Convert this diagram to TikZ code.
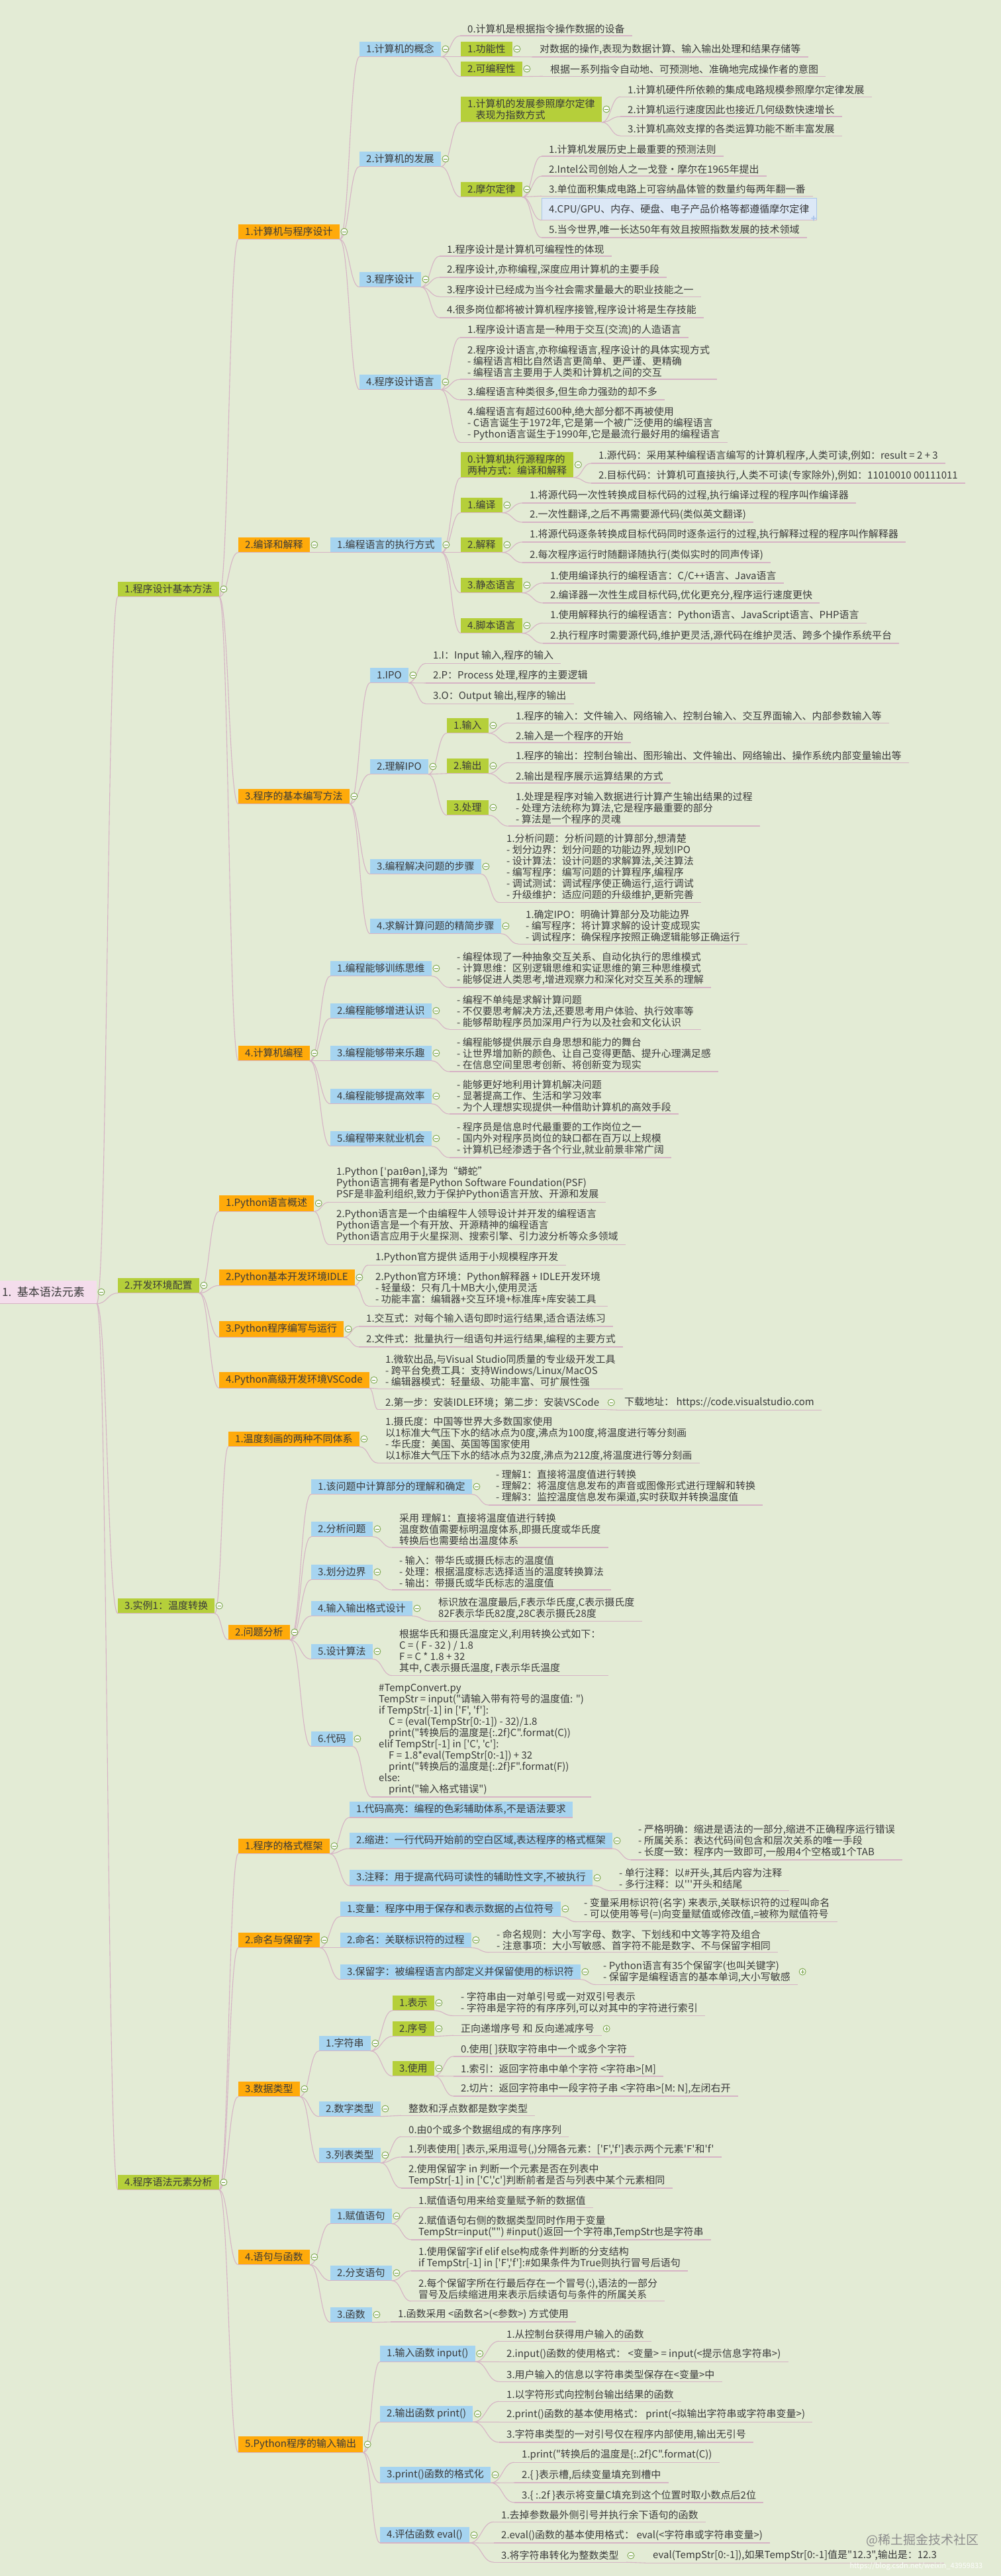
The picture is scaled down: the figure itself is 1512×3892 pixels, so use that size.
\documentclass[tikz,border=0pt]{standalone}
\usepackage{fontspec}
\setmainfont{Noto Sans CJK SC}[Ligatures=TeXOff]
\newfontfamily\dv{DejaVu Sans}
\usetikzlibrary{calc}
\definecolor{bgc}{HTML}{E3EBD5}
\definecolor{txt}{HTML}{3A3A3A}
\definecolor{limec}{HTML}{B5CF3A}
\definecolor{orgc}{HTML}{FFAA0A}
\definecolor{bluc}{HTML}{A6D4F0}
\definecolor{rootc}{HTML}{F4DDEC}
\definecolor{lnc}{HTML}{D6B3C5}
\definecolor{tgc}{HTML}{6E9E3A}
\definecolor{selfc}{HTML}{DCE8F6}
\definecolor{selb}{HTML}{A9C4EA}
\newcommand\fs{\fontsize{15pt}{17pt}\selectfont}
\newcommand\ind{\hspace*{15pt}}
\tikzset{
 uln/.style={draw=lnc, line width=1.4pt},
 con/.style={draw=lnc, line width=1.1pt},
 lf/.style={anchor=west, align=left, inner xsep=11pt, inner ysep=3pt, font=\fs, text=txt,
   append after command={(\tikzlastnode.south west) edge[uln] (\tikzlastnode.south east)}},
 bx/.style={anchor=west, align=left, inner xsep=10pt, inner ysep=4pt, minimum height=23pt, font=\fs, text=txt,
   append after command={(\tikzlastnode.south west) edge[uln] (\tikzlastnode.south east)}},
 lm/.style={bx, fill=limec}, og/.style={bx, fill=orgc}, bl/.style={bx, fill=bluc},
 rt/.style={anchor=east, fill=rootc, text width=128pt, align=right, inner xsep=18pt, minimum height=35pt,
   font=\fontsize{17pt}{20pt}\selectfont, text=txt,
   append after command={(\tikzlastnode.south west) edge[uln] (\tikzlastnode.south east)}},
 tg/.style={circle, draw=tgc, fill=white!85!bgc, line width=0.8pt, minimum size=10pt, inner sep=0pt,
   path picture={\draw[tgc, line width=1pt] ([xshift=-2.6pt]path picture bounding box.center) -- ([xshift=2.6pt]path picture bounding box.center);}},
 tgp/.style={tg, path picture={\draw[tgc, line width=1pt] ([xshift=-2.6pt]path picture bounding box.center) -- ([xshift=2.6pt]path picture bounding box.center) ([yshift=-2.6pt]path picture bounding box.center) -- ([yshift=2.6pt]path picture bounding box.center);}},
}
\newcommand\cn[2]{\draw[con] let \p1=(#1.south east), \p2=(#2.south west), \n1={(\x1+\x2)/2} in (\p1) .. controls (\n1,\y1) and (\n1,\y2) .. (\p2);}
\begin{document}
\begin{tikzpicture}[x=1pt,y=-1pt]
\useasboundingbox (0,0) rectangle (1512,3892);
\fill[bgc] (0,0) rectangle (1512,3892);

% root and level 1
\node[rt] (R) at (146,1952) {1. 基本语法元素};
\node[lm] (A) at (178,890) {1.程序设计基本方法};
\node[lm] (B) at (178,1942) {2.开发环境配置};
\node[lm] (C) at (178,2426) {3.实例1：温度转换};
\node[lm] (D) at (178,3297) {4.程序语法元素分析};

% ---------- A ----------
\node[og] (A1) at (360,350) {1.计算机与程序设计};
\node[og] (A2) at (360,823) {2.编译和解释};
\node[og] (A3) at (360,1203) {3.程序的基本编写方法};
\node[og] (A4) at (360,1591) {4.计算机编程};

\node[bl] (A11) at (543,74) {1.计算机的概念};
\node[bl] (A12) at (543,240) {2.计算机的发展};
\node[bl] (A13) at (543,422) {3.程序设计};
\node[bl] (A14) at (543,577) {4.程序设计语言};

\node[lf] (A110) at (695,44) {0.计算机是根据指令操作数据的设备};
\node[lm] (A111) at (696,74) {1.功能性};
\node[lm] (A112) at (696,104) {2.可编程性};
\node[lf] (A1111) at (804,75) {对数据的操作,表现为数据计算、输入输出处理和结果存储等};
\node[lf] (A1121) at (820,105) {根据一系列指令自动地、可预测地、准确地完成操作者的意图};

\node[lm] (A121) at (696,165) {1.计算机的发展参照摩尔定律\\\phantom{1.}表现为指数方式};
\node[lm] (A122) at (696,286) {2.摩尔定律};
\node[lf] (A1211) at (937,136) {1.计算机硬件所依赖的集成电路规模参照摩尔定律发展};
\node[lf] (A1212) at (937,166) {2.计算机运行速度因此也接近几何级数快速增长};
\node[lf] (A1213) at (937,195) {3.计算机高效支撑的各类运算功能不断丰富发展};
\node[lf] (A1221) at (818,226) {1.计算机发展历史上最重要的预测法则};
\node[lf] (A1222) at (818,256) {2.Intel公司创始人之一戈登·摩尔在1965年提出};
\node[lf] (A1223) at (818,286) {3.单位面积集成电路上可容纳晶体管的数量约每两年翻一番};
\node[lf, fill=selfc, draw=selb, minimum height=33pt] (A1224) at (818,316) {4.CPU/GPU、内存、硬盘、电子产品价格等都遵循摩尔定律};
\node[text=selb, font=\bfseries\fontsize{14pt}{14pt}\selectfont, inner sep=0pt] (selplus) at (1229,331) {+};
\node[lf] (A1225) at (818,348) {5.当今世界,唯一长达50年有效且按照指数发展的技术领域};

\node[lf] (A131) at (664,377) {1.程序设计是计算机可编程性的体现};
\node[lf] (A132) at (664,408) {2.程序设计,亦称编程,深度应用计算机的主要手段};
\node[lf] (A133) at (664,438) {3.程序设计已经成为当今社会需求量最大的职业技能之一};
\node[lf] (A134) at (664,469) {4.很多岗位都将被计算机程序接管,程序设计将是生存技能};

\node[lf] (A141) at (695,499) {1.程序设计语言是一种用于交互(交流)的人造语言};
\node[lf] (A142) at (695,546) {2.程序设计语言,亦称编程语言,程序设计的具体实现方式\\- 编程语言相比自然语言更简单、更严谨、更精确\\- 编程语言主要用于人类和计算机之间的交互};
\node[lf] (A143) at (695,593) {3.编程语言种类很多,但生命力强劲的却不多};
\node[lf] (A144) at (695,640) {4.编程语言有超过600种,绝大部分都不再被使用\\- C语言诞生于1972年,它是第一个被广泛使用的编程语言\\- Python语言诞生于1990年,它是最流行最好用的编程语言};

\node[bl] (A21) at (499,823) {1.编程语言的执行方式};
\node[lm] (A211) at (696,702) {0.计算机执行源程序的\\两种方式：编译和解释};
\node[lm] (A212) at (696,763) {1.编译};
\node[lm] (A213) at (696,823) {2.解释};
\node[lm] (A214) at (696,884) {3.静态语言};
\node[lm] (A215) at (696,945) {4.脚本语言};
\node[lf] (A2111) at (893,689) {1.源代码：采用某种编程语言编写的计算机程序,人类可读,例如：result = 2 + 3};
\node[lf] (A2112) at (893,719) {2.目标代码：计算机可直接执行,人类不可读(专家除外),例如：11010010 00111011};
\node[lf] (A2121) at (789,749) {1.将源代码一次性转换成目标代码的过程,执行编译过程的程序叫作编译器};
\node[lf] (A2122) at (789,778) {2.一次性翻译,之后不再需要源代码(类似英文翻译)};
\node[lf] (A2131) at (789,808) {1.将源代码逐条转换成目标代码同时逐条运行的过程,执行解释过程的程序叫作解释器};
\node[lf] (A2132) at (789,839) {2.每次程序运行时随翻译随执行(类似实时的同声传译)};
\node[lf] (A2141) at (820,870) {1.使用编译执行的编程语言：C/C++语言、Java语言};
\node[lf] (A2142) at (820,900) {2.编译器一次性生成目标代码,优化更充分,程序运行速度更快};
\node[lf] (A2151) at (820,930) {1.使用解释执行的编程语言：Python语言、JavaScript语言、PHP语言};
\node[lf] (A2152) at (820,961) {2.执行程序时需要源代码,维护更灵活,源代码在维护灵活、跨多个操作系统平台};

\node[bl] (A31) at (559,1020) {1.IPO};
\node[bl] (A32) at (559,1158) {2.理解IPO};
\node[bl] (A33) at (559,1309) {3.编程解决问题的步骤};
\node[bl] (A34) at (559,1399) {4.求解计算问题的精简步骤};
\node[lf] (A311) at (643,991) {1.I：Input 输入,程序的输入};
\node[lf] (A312) at (643,1021) {2.P：Process 处理,程序的主要逻辑};
\node[lf] (A313) at (643,1052) {3.O：Output 输出,程序的输出};
\node[lm] (A321) at (675,1096) {1.输入};
\node[lm] (A322) at (675,1157) {2.输出};
\node[lm] (A323) at (675,1220) {3.处理};
\node[lf] (A3211) at (768,1082) {1.程序的输入：文件输入、网络输入、控制台输入、交互界面输入、内部参数输入等};
\node[lf] (A3212) at (768,1112) {2.输入是一个程序的开始};
\node[lf] (A3221) at (768,1142) {1.程序的输出：控制台输出、图形输出、文件输出、网络输出、操作系统内部变量输出等};
\node[lf] (A3222) at (768,1173) {2.输出是程序展示运算结果的方式};
\node[lf] (A3231) at (768,1221) {1.处理是程序对输入数据进行计算产生输出结果的过程\\- 处理方法统称为算法,它是程序最重要的部分\\- 算法是一个程序的灵魂};
\node[lf] (A331) at (754,1310) {1.分析问题：分析问题的计算部分,想清楚\\- 划分边界：划分问题的功能边界,规划IPO\\- 设计算法：设计问题的求解算法,关注算法\\- 编写程序：编写问题的计算程序,编程序\\- 调试测试：调试程序使正确运行,运行调试\\- 升级维护：适应问题的升级维护,更新完善};
\node[lf] (A341) at (783,1399) {1.确定IPO：明确计算部分及功能边界\\- 编写程序：将计算求解的设计变成现实\\- 调试程序：确保程序按照正确逻辑能够正确运行};

\node[bl] (A41) at (499,1463) {1.编程能够训练思维};
\node[bl] (A42) at (499,1527) {2.编程能够增进认识};
\node[bl] (A43) at (499,1591) {3.编程能够带来乐趣};
\node[bl] (A44) at (499,1656) {4.编程能够提高效率};
\node[bl] (A45) at (499,1720) {5.编程带来就业机会};
\node[lf] (A411) at (679,1464) {- 编程体现了一种抽象交互关系、自动化执行的思维模式\\- 计算思维：区别逻辑思维和实证思维的第三种思维模式\\- 能够促进人类思考,增进观察力和深化对交互关系的理解};
\node[lf] (A421) at (679,1528) {- 编程不单纯是求解计算问题\\- 不仅要思考解决方法,还要思考用户体验、执行效率等\\- 能够帮助程序员加深用户行为以及社会和文化认识};
\node[lf] (A431) at (679,1592) {- 编程能够提供展示自身思想和能力的舞台\\- 让世界增加新的颜色、让自己变得更酷、提升心理满足感\\- 在信息空间里思考创新、将创新变为现实};
\node[lf] (A441) at (679,1656) {- 能够更好地利用计算机解决问题\\- 显著提高工作、生活和学习效率\\- 为个人理想实现提供一种借助计算机的高效手段};
\node[lf] (A451) at (679,1721) {- 程序员是信息时代最重要的工作岗位之一\\- 国内外对程序员岗位的缺口都在百万以上规模\\- 计算机已经渗透于各个行业,就业前景非常广阔};

% ---------- B ----------
\node[og] (B1) at (331,1818) {1.Python语言概述};
\node[og] (B2) at (331,1930) {2.Python基本开发环境IDLE};
\node[og] (B3) at (331,2008) {3.Python程序编写与运行};
\node[og] (B4) at (331,2085) {4.Python高级开发环境VSCode};
\node[lf] (B11) at (497,1788) {1.Python {\dv [ˈpaɪθən]},译为“蟒蛇”\\Python语言拥有者是Python Software Foundation(PSF)\\PSF是非盈利组织,致力于保护Python语言开放、开源和发展};
\node[lf] (B12) at (497,1852) {2.Python语言是一个由编程牛人领导设计并开发的编程语言\\Python语言是一个有开放、开源精神的编程语言\\Python语言应用于火星探测、搜索引擎、引力波分析等众多领域};
\node[lf] (B21) at (556,1900) {1.Python官方提供 适用于小规模程序开发};
\node[lf] (B22) at (556,1946) {2.Python官方环境：Python解释器 + IDLE开发环境\\- 轻量级：只有几十MB大小,使用灵活\\- 功能丰富：编辑器+交互环境+标准库+库安装工具};
\node[lf] (B31) at (542,1993) {1.交互式：对每个输入语句即时运行结果,适合语法练习};
\node[lf] (B32) at (542,2024) {2.文件式：批量执行一组语句并运行结果,编程的主要方式};
\node[lf] (B41) at (571,2071) {1.微软出品,与Visual Studio同质量的专业级开发工具\\- 跨平台免费工具：支持Windows/Linux/MacOS\\- 编辑器模式：轻量级、功能丰富、可扩展性强};
\node[lf] (B42) at (571,2119) {2.第一步：安装IDLE环境；第二步：安装VSCode};
\node[lf] (B421) at (932,2119) {下载地址： https://code.visualstudio.com};

% ---------- C ----------
\node[og] (C1) at (345,2174) {1.温度刻画的两种不同体系};
\node[og] (C2) at (345,2466) {2.问题分析};
\node[lf] (C11) at (571,2174) {1.摄氏度：中国等世界大多数国家使用\\以1标准大气压下水的结冰点为0度,沸点为100度,将温度进行等分刻画\\- 华氏度：美国、英国等国家使用\\以1标准大气压下水的结冰点为32度,沸点为212度,将温度进行等分刻画};
\node[bl] (C21) at (470,2246) {1.该问题中计算部分的理解和确定};
\node[bl] (C22) at (470,2310) {2.分析问题};
\node[bl] (C23) at (470,2375) {3.划分边界};
\node[bl] (C24) at (470,2430) {4.输入输出格式设计};
\node[bl] (C25) at (470,2495) {5.设计算法};
\node[bl] (C26) at (470,2627) {6.代码};
\node[lf] (C211) at (738,2246) {- 理解1：直接将温度值进行转换\\- 理解2：将温度信息发布的声音或图像形式进行理解和转换\\- 理解3：监控温度信息发布渠道,实时获取并转换温度值};
\node[lf] (C221) at (592,2311) {采用 理解1：直接将温度值进行转换\\温度数值需要标明温度体系,即摄氏度或华氏度\\转换后也需要给出温度体系};
\node[lf] (C231) at (592,2375) {- 输入：带华氏或摄氏标志的温度值\\- 处理：根据温度标志选择适当的温度转换算法\\- 输出：带摄氏或华氏标志的温度值};
\node[lf] (C241) at (651,2430) {标识放在温度最后,F表示华氏度,C表示摄氏度\\82F表示华氏82度,28C表示摄氏28度};
\node[lf] (C251) at (592,2495) {根据华氏和摄氏温度定义,利用转换公式如下：\\C = ( F - 32 ) / 1.8\\F = C * 1.8 + 32\\其中, C表示摄氏温度, F表示华氏温度};
\node[lf] (C261) at (561,2628) {\#TempConvert.py\\TempStr = input("请输入带有符号的温度值: ")\\if TempStr[-1] in ['F', 'f']:\\\ind C = (eval(TempStr[0:-1]) - 32)/1.8\\\ind print("转换后的温度是\{:.2f\}C".format(C))\\elif TempStr[-1] in ['C', 'c']:\\\ind F = 1.8*eval(TempStr[0:-1]) + 32\\\ind print("转换后的温度是\{:.2f\}F".format(F))\\else:\\\ind print("输入格式错误")};

% ---------- D ----------
\node[og] (D1) at (360,2789) {1.程序的格式框架};
\node[og] (D2) at (360,2931) {2.命名与保留字};
\node[og] (D3) at (360,3156) {3.数据类型};
\node[og] (D4) at (360,3410) {4.语句与函数};
\node[og] (D5) at (360,3693) {5.Python程序的输入输出};

\node[bl] (D11) at (528,2734) {1.代码高亮：编程的色彩辅助体系,不是语法要求};
\node[bl] (D12) at (528,2781) {2.缩进：一行代码开始前的空白区域,表达程序的格式框架};
\node[bl] (D13) at (528,2837) {3.注释：用于提高代码可读性的辅助性文字,不被执行};
\node[lf] (D121) at (953,2782) {- 严格明确：缩进是语法的一部分,缩进不正确程序运行错误\\- 所属关系：表达代码间包含和层次关系的唯一手段\\- 长度一致：程序内一致即可,一般用4个空格或1个TAB};
\node[lf] (D131) at (924,2838) {- 单行注释：以\#开头,其后内容为注释\\- 多行注释：以'''开头和结尾};

\node[bl] (D21) at (514,2884) {1.变量：程序中用于保存和表示数据的占位符号};
\node[bl] (D22) at (514,2931) {2.命名：关联标识符的过程};
\node[bl] (D23) at (514,2979) {3.保留字：被编程语言内部定义并保留使用的标识符};
\node[lf] (D211) at (871,2884) {- 变量采用标识符(名字) 来表示,关联标识符的过程叫命名\\- 可以使用等号(=)向变量赋值或修改值,=被称为赋值符号};
\node[lf] (D221) at (739,2931) {- 命名规则：大小写字母、数字、下划线和中文等字符及组合\\- 注意事项：大小写敏感、首字符不能是数字、不与保留字相同};
\node[lf] (D231) at (900,2979) {- Python语言有35个保留字(也叫关键字)\\- 保留字是编程语言的基本单词,大小写敏感};

\node[bl] (D31) at (482,3087) {1.字符串};
\node[bl] (D32) at (482,3186) {2.数字类型};
\node[bl] (D33) at (482,3256) {3.列表类型};
\node[lm] (D311) at (593,3026) {1.表示};
\node[lm] (D312) at (593,3065) {2.序号};
\node[lm] (D313) at (593,3125) {3.使用};
\node[lf] (D3111) at (685,3026) {- 字符串由一对单引号或一对双引号表示\\- 字符串是字符的有序序列,可以对其中的字符进行索引};
\node[lf] (D3121) at (685,3065) {正向递增序号 和 反向递减序号};
\node[lf] (D3131) at (685,3096) {0.使用[ ]获取字符串中一个或多个字符};
\node[lf] (D3132) at (685,3126) {1.索引：返回字符串中单个字符 <字符串>[M]};
\node[lf] (D3133) at (685,3156) {2.切片：返回字符串中一段字符子串 <字符串>[M: N],左闭右开};
\node[lf] (D321) at (606,3186) {整数和浮点数都是数字类型};
\node[lf] (D331) at (606,3218) {0.由0个或多个数据组成的有序序列};
\node[lf] (D332) at (606,3248) {1.列表使用[ ]表示,采用逗号(,)分隔各元素：['F','f']表示两个元素'F'和'f'};
\node[lf] (D333) at (606,3286) {2.使用保留字 in 判断一个元素是否在列表中\\TempStr[-1] in ['C','c']判断前者是否与列表中某个元素相同};

\node[bl] (D41) at (499,3348) {1.赋值语句};
\node[bl] (D42) at (499,3434) {2.分支语句};
\node[bl] (D43) at (499,3497) {3.函数};
\node[lf] (D411) at (621,3325) {1.赋值语句用来给变量赋予新的数据值};
\node[lf] (D412) at (621,3364) {2.赋值语句右侧的数据类型同时作用于变量\\TempStr=input("") \#input()返回一个字符串,TempStr也是字符串};
\node[lf] (D421) at (621,3411) {1.使用保留字if elif else构成条件判断的分支结构\\if TempStr[-1] in ['F','f']:\#如果条件为True则执行冒号后语句};
\node[lf] (D422) at (621,3458) {2.每个保留字所在行最后存在一个冒号(:),语法的一部分\\冒号及后续缩进用来表示后续语句与条件的所属关系};
\node[lf] (D431) at (590,3497) {1.函数采用 <函数名>(<参数>) 方式使用};

\node[bl] (D51) at (574,3556) {1.输入函数 input()};
\node[bl] (D52) at (574,3647) {2.输出函数 print()};
\node[bl] (D53) at (574,3739) {3.print()函数的格式化};
\node[bl] (D54) at (574,3830) {4.评估函数 eval()};
\node[lf] (D511) at (754,3527) {1.从控制台获得用户输入的函数};
\node[lf] (D512) at (754,3557) {2.input()函数的使用格式： <变量> = input(<提示信息字符串>)};
\node[lf] (D513) at (754,3588) {3.用户输入的信息以字符串类型保存在<变量>中};
\node[lf] (D521) at (754,3618) {1.以字符形式向控制台输出结果的函数};
\node[lf] (D522) at (754,3648) {2.print()函数的基本使用格式： print(<拟输出字符串或字符串变量>)};
\node[lf] (D523) at (754,3679) {3.字符串类型的一对引号仅在程序内部使用,输出无引号};
\node[lf] (D531) at (777,3709) {1.print("转换后的温度是\{:.2f\}C".format(C))};
\node[lf] (D532) at (777,3740) {2.\{ \}表示槽,后续变量填充到槽中};
\node[lf] (D533) at (777,3770) {3.\{ :.2f \}表示将变量C填充到这个位置时取小数点后2位};
\node[lf] (D541) at (746,3800) {1.去掉参数最外侧引号并执行余下语句的函数};
\node[lf] (D542) at (746,3831) {2.eval()函数的基本使用格式： eval(<字符串或字符串变量>)};
\node[lf] (D543) at (746,3861) {3.将字符串转化为整数类型};
\node[lf] (D5431) at (975,3861) {eval(TempStr[0:-1]),如果TempStr[0:-1]值是"12.3",输出是：12.3};

% watermark
\node[text=black!45, font=\fontsize{19pt}{19pt}\selectfont, anchor=west] (wm) at (1305,3838) {@稀土掘金技术社区};
\node[text=white!92!bgc, font=\fontsize{11pt}{11pt}\selectfont, anchor=west] (wm2) at (1280,3877) {https://blog.csdn.net/weixin\_43959833};

% connectors
\foreach \pa/\ch in {R/A,R/B,R/C,R/D,
 A/A1,A/A2,A/A3,A/A4,
 A1/A11,A1/A12,A1/A13,A1/A14,
 A11/A110,A11/A111,A11/A112,A111/A1111,A112/A1121,
 A12/A121,A12/A122,A121/A1211,A121/A1212,A121/A1213,
 A122/A1221,A122/A1222,A122/A1223,A122/A1224,A122/A1225,
 A13/A131,A13/A132,A13/A133,A13/A134,
 A14/A141,A14/A142,A14/A143,A14/A144,
 A2/A21,A21/A211,A21/A212,A21/A213,A21/A214,A21/A215,
 A211/A2111,A211/A2112,A212/A2121,A212/A2122,A213/A2131,A213/A2132,
 A214/A2141,A214/A2142,A215/A2151,A215/A2152,
 A3/A31,A3/A32,A3/A33,A3/A34,A31/A311,A31/A312,A31/A313,
 A32/A321,A32/A322,A32/A323,A321/A3211,A321/A3212,A322/A3221,A322/A3222,A323/A3231,
 A33/A331,A34/A341,
 A4/A41,A4/A42,A4/A43,A4/A44,A4/A45,A41/A411,A42/A421,A43/A431,A44/A441,A45/A451,
 B/B1,B/B2,B/B3,B/B4,B1/B11,B1/B12,B2/B21,B2/B22,B3/B31,B3/B32,B4/B41,B4/B42,B42/B421,
 C/C1,C/C2,C1/C11,C2/C21,C2/C22,C2/C23,C2/C24,C2/C25,C2/C26,
 C21/C211,C22/C221,C23/C231,C24/C241,C25/C251,C26/C261,
 D/D1,D/D2,D/D3,D/D4,D/D5,D1/D11,D1/D12,D1/D13,D12/D121,D13/D131,
 D2/D21,D2/D22,D2/D23,D21/D211,D22/D221,D23/D231,
 D3/D31,D3/D32,D3/D33,D31/D311,D31/D312,D31/D313,D311/D3111,D312/D3121,
 D313/D3131,D313/D3132,D313/D3133,D32/D321,D33/D331,D33/D332,D33/D333,
 D4/D41,D4/D42,D4/D43,D41/D411,D41/D412,D42/D421,D42/D422,D43/D431,
 D5/D51,D5/D52,D5/D53,D5/D54,D51/D511,D51/D512,D51/D513,D52/D521,D52/D522,D52/D523,
 D53/D531,D53/D532,D53/D533,D54/D541,D54/D542,D54/D543,D543/D5431}
 {\cn{\pa}{\ch}}

% collapse markers
\foreach \nm in {R,A,B,C,D,A1,A2,A3,A4,A11,A12,A13,A14,A111,A112,A121,A122,
 A21,A211,A212,A213,A214,A215,A31,A32,A321,A322,A323,A33,A34,A41,A42,A43,A44,A45,
 B1,B2,B3,B4,B42,C1,C2,C21,C22,C23,C24,C25,C26,D1,D2,D3,D4,D5,D12,D13,D21,D22,D23,
 D31,D311,D312,D313,D32,D33,D41,D42,D43,D51,D52,D53,D54,D543}
 {\node[tg] (\nm-t) at ([xshift=7pt]\nm.east) {};}
\foreach \nm in {D231,D3121}
 {\node[tgp] (\nm-t) at ([xshift=7pt]\nm.east) {};}
\end{tikzpicture}
\end{document}
